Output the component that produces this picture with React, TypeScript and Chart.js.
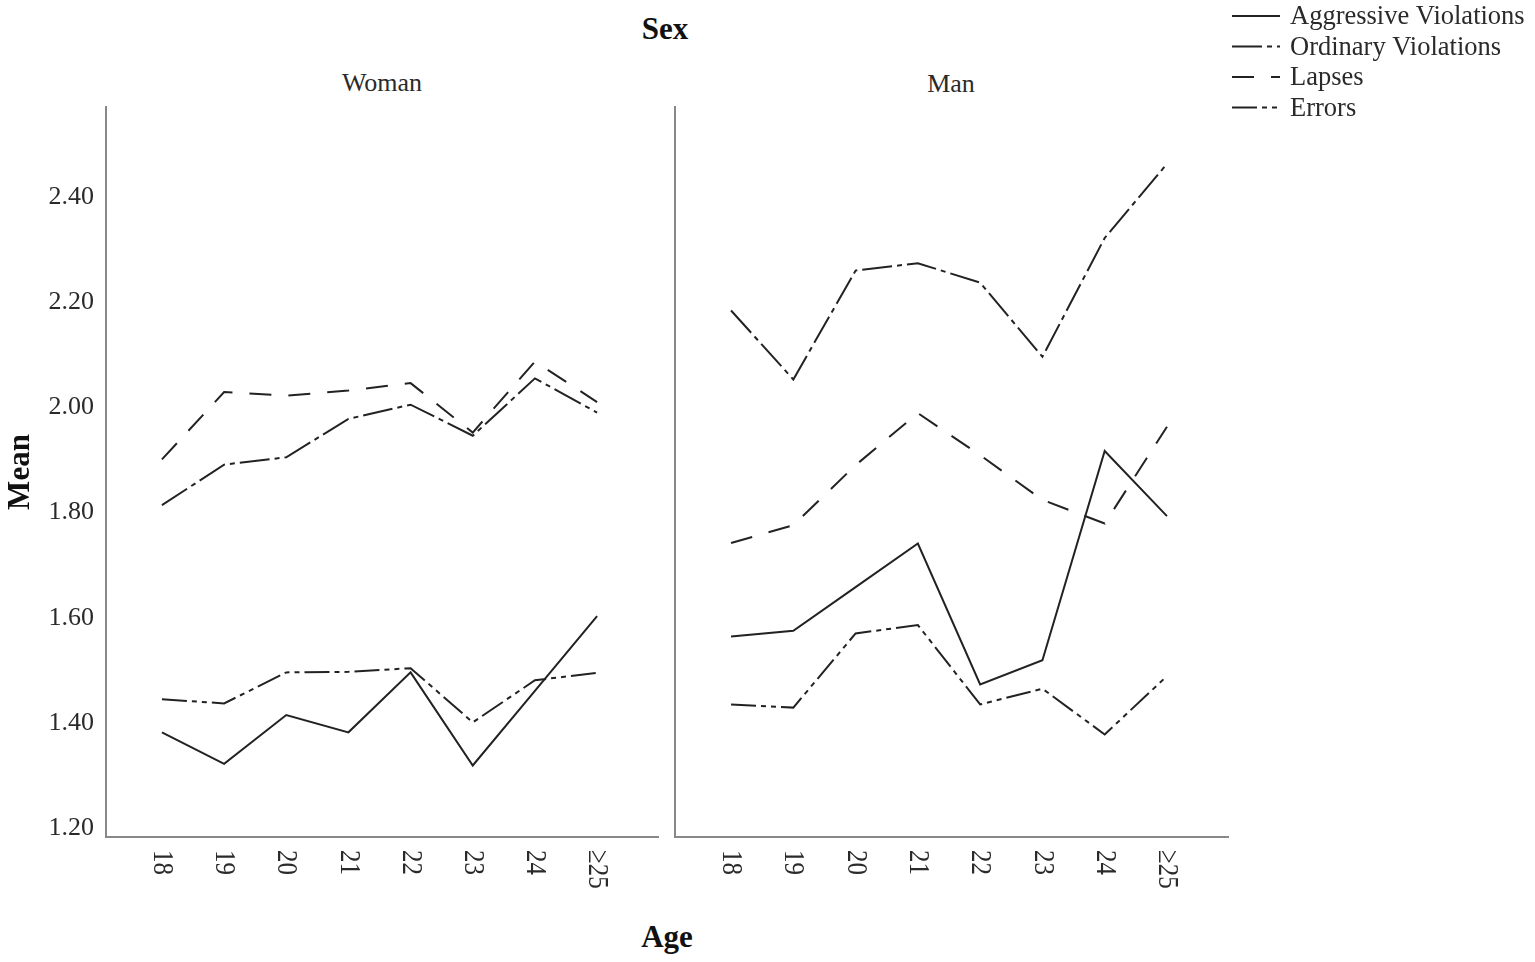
import React, { useEffect, useRef } from 'react';
import { Chart, registerables } from 'chart.js';

Chart.register(...registerables);

const SERIF = '"Liberation Serif", "Times New Roman", serif';
Chart.defaults.font.family = SERIF;

// data
const ageLabels = ['18', '19', '20', '21', '22', '23', '24', '≥25'];
const yTicks = [1.2, 1.4, 1.6, 1.8, 2.0, 2.2, 2.4];
const seriesNames = ['Aggressive Violations', 'Ordinary Violations', 'Lapses', 'Errors'];

const womanAggressive = [1.382, 1.322, 1.415, 1.382, 1.496, 1.319, 1.461, 1.603];
const womanOrdinary = [1.814, 1.891, 1.905, 1.978, 2.005, 1.946, 2.055, 1.99];
const womanLapses = [1.901, 2.029, 2.022, 2.032, 2.046, 1.952, 2.087, 2.01];
const womanErrors = [1.445, 1.437, 1.496, 1.497, 1.504, 1.401, 1.481, 1.495];

const manAggressive = [1.564, 1.575, 1.658, 1.741, 1.473, 1.519, 1.917, 1.793];
const manOrdinary = [2.184, 2.053, 2.26, 2.274, 2.237, 2.096, 2.322, 2.463];
const manLapses = [1.742, 1.776, 1.89, 1.989, 1.909, 1.824, 1.779, 1.963];
const manErrors = [1.435, 1.429, 1.57, 1.586, 1.435, 1.465, 1.378, 1.489];

const dashes = [[], [30, 5, 5, 5], [22, 17], [25, 5, 5, 5, 5, 5]];

const LINE = '#222';
const AXIS = '#888';
const TEXT = '#2a2a2a';

// x labels are rotated clockwise (reading downwards), so draw them by hand
const ageTickPlugin = {
  id: 'ageTicks',
  afterDraw(chart: any) {
    const xs = chart.scales.x;
    const { ctx } = chart;
    ctx.save();
    ctx.fillStyle = TEXT;
    ctx.font = `25px ${SERIF}`;
    ctx.textAlign = 'left';
    ctx.textBaseline = 'middle';
    ageLabels.forEach((label, i) => {
      ctx.save();
      ctx.translate(xs.getPixelForValue(i), chart.chartArea.bottom + 13);
      ctx.rotate(Math.PI / 2);
      ctx.scale(1, 1.2);
      ctx.fillText(label, 0, 0);
      ctx.restore();
    });
    ctx.restore();
  },
};

const legendPlugin = {
  id: 'lineLegend',
  afterDraw(chart: any) {
    const { ctx, chartArea } = chart;
    const x0 = chartArea.right + 4;
    ctx.save();
    chart.data.datasets.forEach((ds: any, i: number) => {
      const y = 16 + i * 30.5;
      ctx.beginPath();
      ctx.setLineDash(ds.borderDash || []);
      ctx.lineWidth = 2;
      ctx.strokeStyle = ds.borderColor;
      ctx.moveTo(x0, y);
      ctx.lineTo(x0 + 48, y);
      ctx.stroke();
      ctx.setLineDash([]);
      ctx.fillStyle = TEXT;
      ctx.font = `26.5px ${SERIF}`;
      ctx.textAlign = 'left';
      ctx.textBaseline = 'alphabetic';
      ctx.fillText(ds.label, x0 + 58, y + 8);
    });
    ctx.restore();
  },
};

type PanelProps = {
  left: number;
  width: number;
  padRight: number;
  series: number[][];
  first?: boolean;
  legend?: boolean;
};

const Panel: React.FC<PanelProps> = ({ left, width, padRight, series, first, legend }) => {
  const chartRef = useRef<HTMLCanvasElement>(null);

  useEffect(() => {
    if (!chartRef.current) return;
    const ctx = chartRef.current.getContext('2d');
    if (!ctx) return;

    const chart = new Chart(ctx, {
      type: 'line',
      data: {
        datasets: series.map((vals, s) => ({
          label: seriesNames[s],
          data: vals.map((v, i) => ({ x: i, y: v })),
          borderColor: LINE,
          borderWidth: 2,
          borderDash: dashes[s],
          pointRadius: 0,
          tension: 0,
          fill: false,
        })),
      },
      options: {
        animation: false,
        responsive: true,
        maintainAspectRatio: false,
        layout: { padding: { left: 0, top: 107, right: padRight, bottom: 0 } },
        plugins: {
          legend: { display: false },
          tooltip: { enabled: false },
        },
        scales: {
          x: {
            type: 'linear',
            min: -0.9,
            max: 7.98,
            grid: { display: false, drawTicks: false },
            border: { display: true, color: AXIS, width: 2 },
            ticks: { display: false },
            afterBuildTicks: (s: any) => {
              s.ticks = ageLabels.map((_, i) => ({ value: i }));
            },
            afterFit: (s: any) => {
              s.height = 125;
            },
          },
          y: {
            type: 'linear',
            min: 1.183,
            max: 2.571,
            grid: { display: false, drawTicks: false },
            border: { display: true, color: AXIS, width: 2 },
            ticks: {
              display: !!first,
              color: TEXT,
              padding: 12,
              font: { size: 26, family: SERIF },
              callback: (v: any) => Number(v).toFixed(2),
            },
            title: {
              display: !!first,
              text: 'Mean',
              color: '#111',
              padding: { top: 2, bottom: 0 },
              font: { size: 31, weight: 'bold', family: SERIF },
            },
            afterBuildTicks: (s: any) => {
              s.ticks = yTicks.map((v) => ({ value: v }));
            },
            afterFit: (s: any) => {
              s.width = first ? 106 : 7;
            },
          },
        },
      },
      plugins: legend ? [ageTickPlugin, legendPlugin] : [ageTickPlugin],
    } as any);

    return () => {
      chart.destroy();
    };
  }, []);

  return (
    <div style={{ position: 'absolute', left, top: 0, width, height: 962 }}>
      <canvas ref={chartRef} />
    </div>
  );
};

const label = (text: string, x: number, top: number, size: number, bold = false) => (
  <div
    style={{
      position: 'absolute',
      left: x,
      top,
      transform: 'translateX(-50%)',
      whiteSpace: 'nowrap',
      fontFamily: SERIF,
      fontSize: size,
      lineHeight: 1,
      fontWeight: bold ? 'bold' : 'normal',
      color: bold ? '#111' : TEXT,
    }}
  >
    {text}
  </div>
);

export default function App() {
  return (
    <div style={{ position: 'absolute', left: 0, top: 0, width: 1535, height: 962, background: '#fff', overflow: 'hidden' }}>
      {label('Sex', 665, 13, 31, true)}
      {label('Woman', 382, 70, 26)}
      {label('Man', 951, 71, 26)}
      {label('Age', 667, 921, 31, true)}
      <Panel
        left={0}
        width={668}
        padRight={10}
        first
        series={[womanAggressive, womanOrdinary, womanLapses, womanErrors]}
      />
      <Panel
        left={668}
        width={867}
        padRight={307}
        legend
        series={[manAggressive, manOrdinary, manLapses, manErrors]}
      />
    </div>
  );
}
